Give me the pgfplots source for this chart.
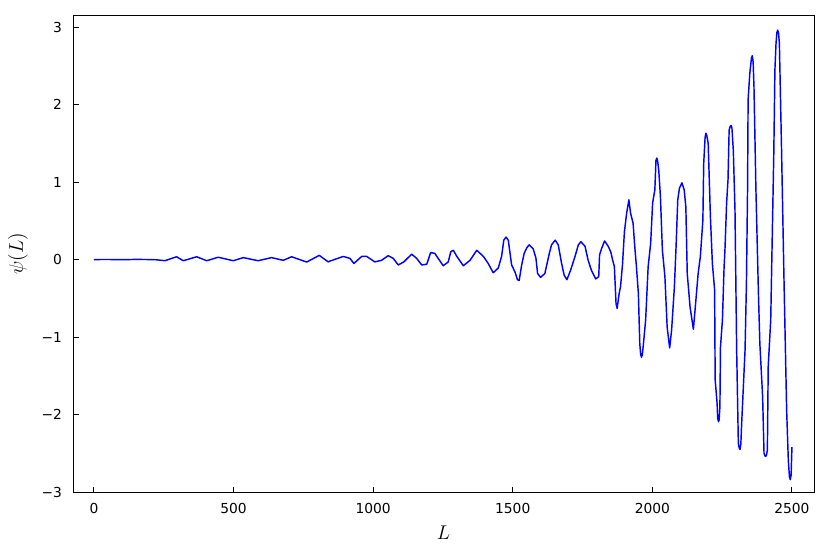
\documentclass[border=0pt]{standalone}
\usepackage{fontspec}
\setmainfont{DejaVu Sans}
\usepackage{pgfplots}
\pgfplotsset{compat=1.18}

\begin{document}
\begin{tikzpicture}
\begin{axis}[
    scale only axis,
    width=537pt, height=345.7pt,
    xmin=-75, xmax=2579, ymin=-3, ymax=3.155,
    xtick={0,500,1000,1500,2000,2500},
    xticklabels={0,500,1000,1500,2000,2500},
    ytick={-3,-2,-1,0,1,2,3},
    yticklabels={−3,−2,−1,0,1,2,3},
    tick align=inside,
    xtick pos=bottom, ytick pos=left,
    major tick length=4pt,
    tick style={black, line width=0.7pt},
    axis line style={black, line width=0.7pt},
    tick label style={font=\fontsize{10}{12}\selectfont},
    xticklabel style={yshift=-4.5pt},
    yticklabel style={xshift=-4.5pt},
    xlabel={$L$}, ylabel={$\psi(L)$},
    label style={font=\fontsize{14}{16}\selectfont},
    xlabel style={at={(axis description cs:0.5,-0.0859)}, anchor=center},
    ylabel style={at={(axis description cs:-0.0743,0.5)}, anchor=center},
    clip=false,
]
\coordinate (sw) at (rel axis cs:0,0);
\coordinate (ne) at (rel axis cs:1,1);
\addplot[blue, line width=1.05pt, line join=round] coordinates {
(0,0) (50,0.001) (100,-0.002) (150,0.002) (200,0) (224,-0.003) (254,-0.015)
(296,0.036) (320,-0.015) (368,0.036) (404,-0.015) (445,0.03) (499,-0.015)
(535,0.025) (588,-0.015) (636,0.025) (678,-0.01) (708,0.036) (762,-0.032)
(807,0.054) (839,-0.03) (845,-0.02) (893,0.04) (917,0.015) (931,-0.05)
(959,0.04) (977,0.04) (1006,-0.03) (1030,-0.01) (1054,0.05) (1072,0.015)
(1090,-0.07) (1110,-0.03) (1138,0.07) (1156,0.015) (1174,-0.07) (1192,-0.06)
(1206,0.09) (1221,0.08) (1233,0.015) (1251,-0.08) (1269,-0.03) (1278,0.10)
(1287,0.12) (1300,0.04) (1323,-0.08) (1347,-0.01) (1371,0.12) (1395,0.04)
(1412,-0.05) (1430,-0.17) (1448,-0.11) (1460,0.04) (1468,0.25) (1476,0.29)
(1484,0.25) (1496,-0.07) (1508,-0.16) (1517,-0.26) (1523,-0.27) (1532,-0.07)
(1541,0.08) (1550,0.15) (1559,0.19) (1573,0.14) (1583,0.02) (1589,-0.18)
(1600,-0.23) (1615,-0.18) (1631,0.08) (1639,0.19) (1652,0.25) (1663,0.19)
(1675,-0.05) (1684,-0.20) (1694,-0.26) (1707,-0.14) (1723,0.04) (1735,0.19)
(1744,0.23) (1759,0.17) (1770,-0.01) (1782,-0.14) (1797,-0.25) (1808,-0.22)
(1811,0.06) (1818,0.14) (1829,0.24) (1842,0.17) (1851,0.10) (1858,-0.01)
(1864,-0.09) (1870,-0.57) (1874,-0.63) (1881,-0.44) (1886,-0.35) (1893,-0.07)
(1900,0.36) (1908,0.60) (1916,0.77) (1922,0.60) (1931,0.47) (1937,0.17)
(1943,-0.09) (1950,-0.44) (1955,-1.08) (1958,-1.22) (1961,-1.26) (1964,-1.23)
(1967,-1.13) (1976,-0.78) (1985,-0.09) (1994,0.21) (2001,0.73) (2009,0.90)
(2013,1.28) (2016,1.31) (2019,1.27) (2023,1.15) (2029,0.81) (2036,0.12)
(2045,-0.22) (2053,-0.87) (2062,-1.14) (2069,-0.91) (2079,-0.35) (2085,0.17)
(2091,0.77) (2097,0.92) (2106,0.99) (2114,0.90) (2120,0.68) (2125,-0.18)
(2135,-0.61) (2147,-0.90) (2153,-0.65) (2164,-0.18) (2172,0.04) (2181,0.51)
(2184,1.24) (2189,1.58) (2192,1.63) (2195,1.60) (2200,1.50) (2208,0.55)
(2215,-0.05) (2223,-0.39) (2225,-1.55) (2232,-1.86) (2234,-2.05) (2237,-2.09)
(2239,-2.07) (2242,-1.90) (2244,-1.13) (2251,-0.78) (2257,-0.09) (2260,0.12)
(2266,0.73) (2271,1.03) (2275,1.67) (2279,1.72) (2282,1.73) (2285,1.70)
(2290,1.41) (2296,0.64) (2302,-1.17) (2308,-2.37) (2311,-2.43) (2314,-2.45)
(2317,-2.38) (2320,-2.11) (2326,-1.64) (2332,-1.17) (2337,-0.31) (2341,0.90)
(2343,2.06) (2349,2.40) (2355,2.60) (2358,2.63) (2361,2.55) (2364,2.23)
(2371,0.90) (2380,-0.44) (2385,-1.08) (2395,-1.77) (2400,-2.50) (2403,-2.53)
(2406,-2.54) (2409,-2.52) (2412,-2.46) (2415,-1.38) (2424,-0.78) (2429,0.21)
(2435,1.37) (2439,2.45) (2443,2.79) (2446,2.93) (2449,2.96) (2452,2.92)
(2455,2.79) (2463,1.37) (2472,-0.35) (2481,-1.94) (2487,-2.59) (2491,-2.80)
(2494,-2.84) (2497,-2.78) (2500,-2.42)
};
\end{axis}
\pgfresetboundingbox
\path[use as bounding box] ([xshift=-52.9pt,yshift=-44.9pt]sw) rectangle ([xshift=11.6pt,yshift=10.9pt]ne);
\end{tikzpicture}
\end{document}
